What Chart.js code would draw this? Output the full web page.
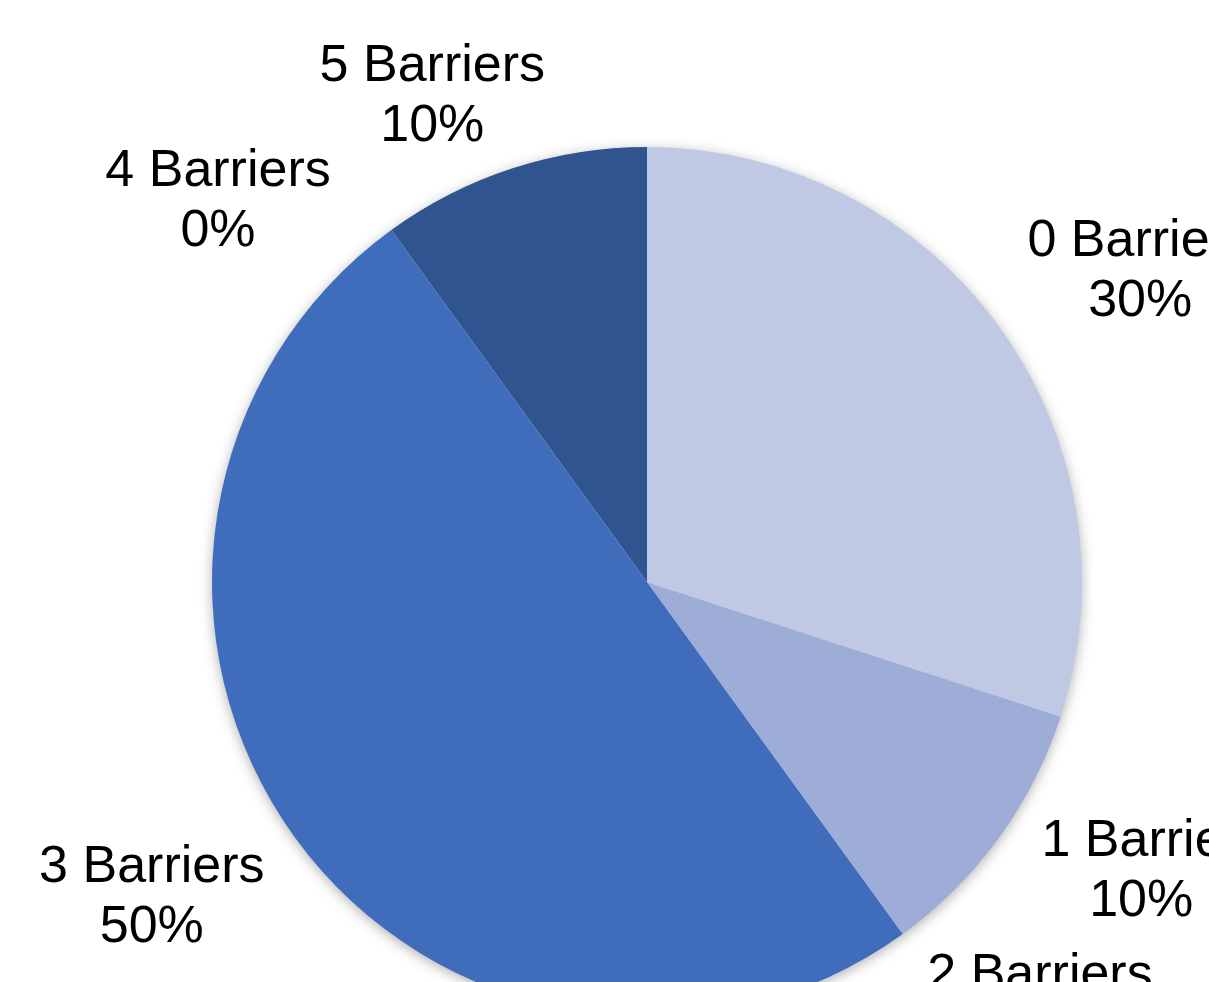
<!DOCTYPE html>
<html>
<head>
<meta charset="utf-8">
<script src="https://cdn.jsdelivr.net/npm/chart.js@4/dist/chart.umd.min.js"></script>
<style>
  html, body { margin: 0; padding: 0; background: #fff; overflow: hidden; }
  #wrap { position: absolute; left: 0; top: 0; width: 1294px; height: 1164px; }
</style>
</head>
<body>
<div id="wrap"><canvas id="myChart"></canvas></div>
<script>
  /* DATA */
  const categories = ['0 Barriers', '1 Barrier', '2 Barriers', '3 Barriers', '4 Barriers', '5 Barriers'];
  const shares = [30, 10, 0, 50, 0, 10];
  const sliceColors = ['#BFC9E3', '#9EADD8', '#7F93CC', '#406DBB', '#38609F', '#30548F'];

  // nudges for the outside labels, in px from the default spot on each slice's mid-line
  const labelNudgeX = [28, 29, 55, -30, -91, -37];
  const labelNudgeY = [27, -49, -43, -23, 84, 61];

  /* SOFT SHADOW BEHIND THE PIE */
  const pieShadow = {
    id: 'pieShadow',
    beforeDatasetsDraw(chart) {
      const arc = chart.getDatasetMeta(0).data[0];
      if (!arc) return;
      const ctx = chart.ctx;
      ctx.save();
      ctx.shadowColor = 'rgba(0,0,0,0.35)';
      ctx.shadowBlur = 14;
      ctx.shadowOffsetY = 3;
      ctx.fillStyle = '#ffffff';
      ctx.beginPath();
      ctx.arc(arc.x, arc.y, arc.outerRadius - 1, 0, Math.PI * 2);
      ctx.fill();
      ctx.restore();
    }
  };

  /* LABELS OUTSIDE THE SLICES */
  const outsideLabels = {
    id: 'outsideLabels',
    afterDatasetsDraw(chart) {
      const ctx = chart.ctx;
      const meta = chart.getDatasetMeta(0);
      ctx.save();
      ctx.font = '52px "Liberation Sans", Arial, sans-serif';
      ctx.fillStyle = '#000';
      ctx.textAlign = 'center';
      ctx.textBaseline = 'middle';
      meta.data.forEach((arc, i) => {
        const mid = (arc.startAngle + arc.endAngle) / 2;
        const d = arc.outerRadius + 140;
        const x = arc.x + Math.cos(mid) * d + labelNudgeX[i];
        const y = arc.y + Math.sin(mid) * d + labelNudgeY[i];
        ctx.fillText(categories[i], x, y - 29);
        ctx.fillText(shares[i] + '%', x, y + 31);
      });
      ctx.restore();
    }
  };

  function initChart(chart) {
    return new Chart(chart, {
      type: 'pie',
      data: {
        labels: categories,
        datasets: [{
          data: shares,
          backgroundColor: sliceColors,
          borderWidth: 0
        }]
      },
      options: {
        responsive: true,
        maintainAspectRatio: false,
        animation: false,
        layout: { padding: { left: 212, right: 212, top: 147, bottom: 147 } },
        plugins: {
          legend: { display: false },
          tooltip: { enabled: false }
        }
      },
      plugins: [pieShadow, outsideLabels]
    });
  }

  document.addEventListener('DOMContentLoaded', () => initChart(document.querySelector('#myChart')));
</script>
</body>
</html>
